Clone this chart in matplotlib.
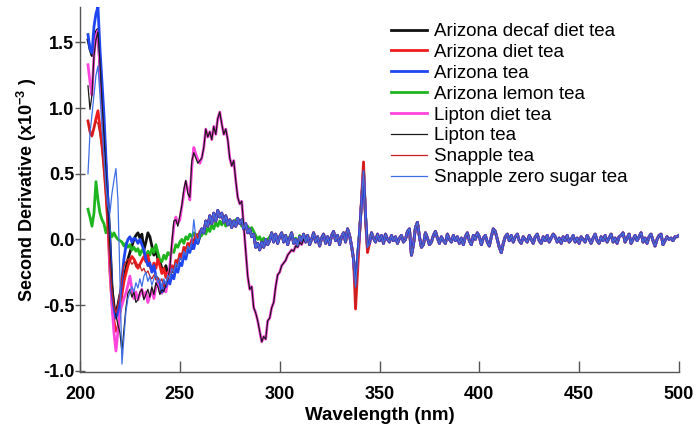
import matplotlib
matplotlib.use('Agg')
import matplotlib.pyplot as plt
import numpy as np

plt.rcParams['font.family'] = ['Liberation Sans', 'DejaVu Sans']
plt.rcParams['mathtext.fontset'] = 'custom'
plt.rcParams['mathtext.rm'] = 'Liberation Sans'
plt.rcParams['mathtext.bf'] = 'Liberation Sans:bold'

START_WL = 204  # first wavelength (nm), data read every 1 nm

# 204-260 nm, one list per sample
head_az_decaf = [1.52, 1.45, 1.40, 1.50, 1.58, 1.60, 1.30, 1.05, 0.80, 0.56,
                 0.30, 0.00, -0.35, -0.56, -0.55, -0.50, -0.42, -0.36, -0.30, -0.22,
                 -0.15, -0.10, -0.05, 0.00, 0.03, 0.05, 0.01, 0.04, -0.08, -0.02,
                 0.05, 0.02, -0.05, -0.12, -0.08, -0.15, -0.17, -0.22, -0.25, -0.20,
                 -0.26, -0.28, -0.22, -0.25, -0.18, -0.20, -0.12, -0.15, -0.08, -0.10,
                 -0.06, -0.04, -0.07, -0.02, 0.00, -0.03, 0.02]
head_az_diet = [0.90, 0.82, 0.79, 0.85, 0.92, 0.98, 0.85, 0.72, 0.55, 0.35,
                0.10, -0.25, -0.48, -0.62, -0.70, -0.68, -0.56, -0.42, -0.32, -0.26,
                -0.20, -0.16, -0.13, -0.15, -0.18, -0.22, -0.19, -0.16, -0.13, -0.17,
                -0.12, -0.20, -0.24, -0.18, -0.22, -0.15, -0.20, -0.26, -0.22, -0.29,
                -0.25, -0.28, -0.20, -0.24, -0.16, -0.19, -0.11, -0.14, -0.06, -0.10,
                -0.03, -0.06, 0.00, -0.03, 0.04, 0.00, 0.06]
head_az_tea = [1.56, 1.45, 1.42, 1.62, 1.72, 1.77, 1.45, 1.20, 0.95, 0.62,
               0.30, -0.05, -0.40, -0.52, -0.60, -0.55, -0.45, -0.30, -0.15, -0.05,
               0.00, 0.02, -0.02, 0.01, 0.00, -0.03, 0.00, -0.04, -0.08, -0.15,
               -0.20, -0.18, -0.25, -0.20, -0.28, -0.30, -0.33, -0.40, -0.32, -0.36,
               -0.30, -0.34, -0.27, -0.30, -0.22, -0.25, -0.18, -0.20, -0.12, -0.15,
               -0.08, -0.10, -0.04, -0.07, 0.00, -0.03, 0.04]
head_az_lemon = [0.23, 0.17, 0.10, 0.20, 0.44, 0.30, 0.20, 0.15, 0.12, 0.05,
                 0.10, 0.06, 0.02, 0.05, 0.02, 0.00, -0.01, -0.02, -0.05, -0.03,
                 -0.06, -0.04, -0.08, -0.06, -0.09, -0.07, -0.12, -0.08, -0.10, -0.14,
                 -0.09, -0.12, -0.07, -0.10, -0.04, -0.10, -0.16, -0.17, -0.12, -0.15,
                 -0.10, -0.12, -0.08, -0.10, -0.04, -0.06, -0.02, 0.00, -0.03, 0.02,
                 0.00, 0.04, 0.02, 0.05, 0.01, 0.04, 0.02]
head_lipton_diet = [1.33, 1.20, 1.10, 1.40, 1.55, 1.59, 1.30, 1.05, 0.85, 0.55,
                    0.18, -0.20, -0.50, -0.71, -0.85, -0.70, -0.55, -0.50, -0.45, -0.41,
                    -0.35, -0.28, -0.38, -0.45, -0.40, -0.46, -0.42, -0.38, -0.44, -0.40,
                    -0.48, -0.43, -0.38, -0.45, -0.36, -0.31, -0.40, -0.41, -0.35, -0.40,
                    -0.32, -0.20, -0.05, 0.10, 0.17, 0.12, 0.15, 0.25, 0.35, 0.44,
                    0.38, 0.30, 0.55, 0.70, 0.65, 0.61, 0.58]
head_lipton = [1.17, 0.99, 1.10, 1.40, 1.52, 1.58, 1.35, 1.05, 0.80, 0.50,
               0.20, -0.10, -0.33, -0.45, -0.58, -0.65, -0.71, -0.86, -0.69, -0.52,
               -0.41, -0.38, -0.44, -0.40, -0.48, -0.46, -0.40, -0.38, -0.46, -0.42,
               -0.38, -0.44, -0.36, -0.42, -0.33, -0.36, -0.42, -0.38, -0.40, -0.34,
               -0.30, -0.22, -0.02, 0.14, 0.15, 0.10, 0.18, 0.26, 0.38, 0.45,
               0.35, 0.32, 0.60, 0.66, 0.62, 0.58, 0.60]
head_snapple = [0.91, 0.80, 0.78, 0.85, 0.90, 0.88, 0.80, 0.68, 0.51, 0.30,
                0.05, -0.20, -0.40, -0.51, -0.56, -0.50, -0.41, -0.28, -0.20, -0.17,
                -0.15, -0.16, -0.19, -0.17, -0.21, -0.19, -0.20, -0.24, -0.22, -0.26,
                -0.24, -0.28, -0.30, -0.27, -0.31, -0.29, -0.33, -0.30, -0.36, -0.33,
                -0.30, -0.27, -0.24, -0.21, -0.18, -0.16, -0.13, -0.11, -0.08, -0.06,
                -0.04, -0.03, -0.01, 0.00, 0.02, 0.01, 0.03]
head_snapple_zero = [0.50, 0.81, 0.95, 1.10, 1.25, 1.32, 1.10, 0.85, 0.62, 0.40,
                     0.25, 0.20, 0.35, 0.45, 0.54, 0.30, -0.30, -0.95, -0.75, -0.55,
                     -0.45, -0.40, -0.36, -0.40, -0.33, -0.37, -0.30, -0.36, -0.28, -0.25,
                     -0.32, -0.28, -0.35, -0.30, -0.26, -0.33, -0.30, -0.38, -0.30, -0.34,
                     -0.27, -0.30, -0.22, -0.25, -0.18, -0.21, -0.14, -0.16, -0.09, -0.12,
                     -0.05, -0.08, -0.02, 0.15, 0.02, -0.02, 0.03]

# 261-312 nm
mid_flat = [0.08, 0.05, 0.14, 0.10, 0.18, 0.12, 0.20, 0.14, 0.22, 0.17,
            0.20, 0.13, 0.18, 0.11, 0.15, 0.09, 0.14, 0.10, 0.16, 0.12,
            0.15, 0.08, 0.12, 0.05, 0.08, 0.02, 0.04, -0.06, -0.03, -0.08,
            -0.02, -0.06, 0.00, -0.04, -0.01, 0.05, -0.02, 0.04, -0.03, 0.02,
            0.05, -0.02, 0.03, -0.04, 0.01, 0.05, -0.03, 0.00, -0.05, 0.02,
            -0.01, 0.04]
mid_lemon = [0.03, 0.07, 0.04, 0.09, 0.06, 0.11, 0.08, 0.13, 0.10, 0.14,
             0.11, 0.15, 0.10, 0.13, 0.11, 0.14, 0.12, 0.15, 0.13, 0.14,
             0.10, 0.12, 0.08, 0.10, 0.07, 0.09, 0.06, 0.03, 0.00, 0.02,
             -0.02, 0.01, -0.03, 0.00, 0.02, 0.04, 0.01, 0.03, -0.01, 0.02,
             0.04, 0.00, 0.03, -0.02, 0.02, 0.04, -0.01, 0.01, -0.03, 0.03,
             0.00, 0.03]
mid_lipton = [0.62, 0.70, 0.84, 0.78, 0.82, 0.76, 0.86, 0.80, 0.92, 0.97,
              0.88, 0.80, 0.84, 0.76, 0.62, 0.56, 0.60, 0.45, 0.32, 0.27,
              0.29, 0.10, -0.10, -0.28, -0.38, -0.36, -0.52, -0.56, -0.62, -0.70,
              -0.78, -0.74, -0.76, -0.62, -0.60, -0.52, -0.48, -0.36, -0.27, -0.25,
              -0.20, -0.18, -0.16, -0.12, -0.10, -0.08, -0.09, -0.05, -0.06, -0.02,
              -0.04, 0.00]

# 313-337 nm, shared
pre_spike = [-0.02, 0.03, -0.04, 0.00, 0.05, -0.02, 0.02, -0.05, 0.01, 0.04,
             -0.03, 0.02, -0.04, 0.03, 0.06, -0.01, 0.03, -0.04, 0.02, 0.05,
             -0.02, 0.08, 0.03, -0.05, -0.15]

# 338-344 nm
spike_red = [-0.53, -0.25, 0.02, 0.30, 0.59, 0.15, -0.10]
spike_blue = [-0.36, -0.14, 0.05, 0.28, 0.52, 0.18, -0.06]

# 345-500 nm, shared
tail = [-0.03, 0.05, 0.01, -0.02, 0.04, -0.01, 0.03, -0.03, 0.04, 0.00,
        -0.02, 0.03, -0.01, 0.02, -0.03, 0.01, 0.03, -0.02, 0.00, 0.06,
        0.08, -0.12, -0.04, 0.09, 0.13, 0.02, -0.06, -0.04, 0.05, 0.01,
        -0.04, -0.02, 0.03, 0.06, 0.01, -0.03, 0.02, -0.01, -0.03, 0.04,
        0.00, -0.02, 0.03, -0.01, 0.02, -0.03, 0.01, -0.04, 0.02, 0.05,
        -0.01, -0.04, 0.03, 0.00, 0.05, 0.02, -0.04, 0.01, 0.03, -0.02,
        -0.05, 0.02, 0.08, 0.06, 0.00, -0.06, -0.10, -0.03, 0.02, 0.04,
        -0.01, 0.03, -0.02, 0.02, 0.04, -0.01, -0.03, 0.02, 0.00, -0.02,
        0.03, 0.00, -0.03, 0.02, 0.04, -0.01, -0.03, 0.02, -0.01, 0.03,
        -0.02, 0.01, 0.04, 0.02, -0.02, 0.01, -0.03, 0.02, -0.01, 0.03,
        -0.02, 0.00, 0.03, -0.02, 0.01, -0.03, 0.02, 0.00, -0.02, 0.03,
        0.00, -0.03, 0.01, 0.04, -0.01, -0.03, 0.02, -0.01, 0.03, -0.02,
        0.01, 0.04, -0.02, 0.01, -0.03, 0.02, 0.03, 0.05, -0.02, 0.01,
        0.04, -0.03, 0.00, 0.03, -0.01, 0.02, 0.05, -0.02, 0.01, -0.03,
        0.02, 0.04, -0.01, -0.05, 0.00, 0.03, 0.04, -0.04, -0.01, 0.02,
        0.00, 0.01, -0.01, 0.02, 0.02, 0.03]

labels = ['Arizona decaf diet tea', 'Arizona diet tea', 'Arizona tea',
          'Arizona lemon tea', 'Lipton diet tea', 'Lipton tea',
          'Snapple tea', 'Snapple zero sugar tea']
heads = [head_az_decaf, head_az_diet, head_az_tea, head_az_lemon,
         head_lipton_diet, head_lipton, head_snapple, head_snapple_zero]
mids = [mid_flat, mid_flat, mid_flat, mid_lemon,
        mid_lipton, mid_lipton, mid_flat, mid_flat]
spikes = [spike_blue, spike_red, spike_blue, spike_blue,
          spike_blue, spike_blue, spike_red, spike_blue]

colors = ['#111111', '#ee1c1c', '#1f45f0', '#1fb51f',
          '#ff45dc', '#1a1a1a', '#c42020', '#3f6fe6']
widths = [2.0, 2.0, 2.0, 2.0, 2.0, 0.9, 0.9, 0.9]
zorders = [2, 3, 5, 2.5, 4, 6, 6.5, 7]

fig = plt.figure(figsize=(6.96, 4.33), dpi=100)
ax = fig.add_axes([80 / 696, 61 / 433, 599 / 696, 365 / 433])

for lab, h, m, s, c, lw, z in zip(labels, heads, mids, spikes, colors, widths, zorders):
    y = np.array(h + m + pre_spike + s + tail)
    wl = START_WL + np.arange(len(y))
    ax.plot(wl, y, color=c, lw=lw, label=lab, zorder=z)

ax.set_xlim(200, 500)
ax.set_ylim(-1.01, 1.77)
ax.set_xticks(np.arange(200, 501, 50))
ax.set_yticks([-1.0, -0.5, 0.0, 0.5, 1.0, 1.5])
ax.set_yticklabels(['-1.0', '-0.5', '0.0', '0.5', '1.0', '1.5'])

for side in ['top', 'right']:
    ax.spines[side].set_visible(False)
for side in ['left', 'bottom']:
    ax.spines[side].set_color('#555555')
    ax.spines[side].set_linewidth(1.0)

ax.tick_params(axis='x', direction='in', length=8, width=1, color='#555555',
               labelsize=13, pad=10)
ax.tick_params(axis='y', direction='inout', length=7, width=1, color='#555555',
               labelsize=13, pad=0.5)
for t in ax.get_xticklabels() + ax.get_yticklabels():
    t.set_fontweight('bold')

ax.set_xlabel('Wavelength (nm)', fontsize=13.5, fontweight='bold', labelpad=3)
ax.set_ylabel(r'Second Derivative (x10$^{\mathbf{-3}}$ )', fontsize=13,
              fontweight='bold', labelpad=3)

leg = ax.legend(loc='upper left', bbox_to_anchor=(391 / 696, 1 - 23 / 433),
                bbox_transform=fig.transFigure, frameon=False, fontsize=13.5,
                handlelength=1.92, handletextpad=0.37, labelspacing=0.2,
                borderaxespad=0, borderpad=0)

fig.savefig('out.png', dpi=100)
